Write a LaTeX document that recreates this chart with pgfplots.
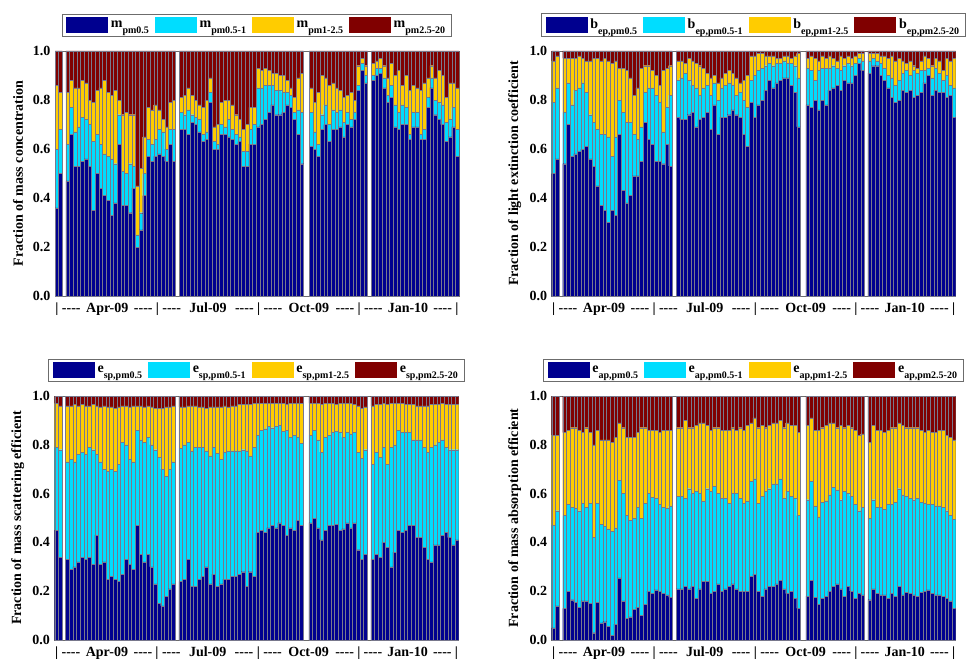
\documentclass[border=0pt]{standalone}
\usepackage{fontspec}
\setmainfont{Liberation Serif}
\usepackage{pgfplots}
\usepackage{pgfplotstable}
\pgfplotsset{compat=1.18}
\definecolor{cNavy}{RGB}{0,0,143}
\definecolor{cCyan}{RGB}{0,221,255}
\definecolor{cGold}{RGB}{255,204,0}
\definecolor{cMaroon}{RGB}{128,0,0}
\definecolor{barEdge}{RGB}{120,120,140}
\newcommand\fs{\fontsize{10.5}{12}\selectfont\bfseries}
\newcommand\lab[2]{#1\raisebox{-4.5pt}{\fontsize{7.5}{8}\selectfont #2}}
\newcommand\dsh{-\kern0pt-\kern0pt-\kern0pt-}
\newcommand\qlab[2]{\makebox[#1]{\dsh\hfill#2\hfill\dsh}}

% mass concentration: x, top of pm0.5, top of pm0.5-1, top of pm1-2.5 (cumulative)
\pgfplotstableread{
x b c y
0 0.36 0.60 0.86
1 0.50 0.68 0.83
3 0.47 0.62 0.83
4 0.66 0.77 0.88
5 0.53 0.67 0.85
6 0.53 0.69 0.85
7 0.55 0.73 0.88
8 0.56 0.72 0.87
9 0.53 0.70 0.80
10 0.35 0.63 0.79
11 0.50 0.66 0.84
12 0.44 0.62 0.85
13 0.41 0.58 0.88
14 0.39 0.57 0.83
15 0.33 0.56 0.82
16 0.38 0.54 0.84
17 0.62 0.74 0.80
18 0.37 0.51 0.74
19 0.37 0.50 0.75
20 0.34 0.54 0.74
21 0.44 0.53 0.74
22 0.20 0.25 0.45
23 0.27 0.34 0.52
24 0.41 0.50 0.65
25 0.57 0.64 0.77
26 0.55 0.62 0.76
27 0.57 0.64 0.78
28 0.58 0.68 0.76
29 0.57 0.67 0.72
30 0.55 0.60 0.69
31 0.62 0.68 0.79
32 0.55 0.68 0.80
34 0.68 0.75 0.81
35 0.68 0.74 0.82
36 0.66 0.76 0.85
37 0.71 0.74 0.82
38 0.70 0.73 0.80
39 0.67 0.72 0.78
40 0.63 0.66 0.77
41 0.64 0.67 0.80
42 0.79 0.83 0.89
43 0.60 0.63 0.69
44 0.60 0.62 0.70
45 0.66 0.70 0.79
46 0.66 0.69 0.80
47 0.65 0.72 0.80
48 0.64 0.68 0.78
49 0.62 0.66 0.74
50 0.63 0.65 0.72
51 0.53 0.59 0.68
52 0.53 0.59 0.70
53 0.62 0.68 0.77
54 0.62 0.70 0.77
55 0.69 0.85 0.93
56 0.70 0.85 0.92
57 0.72 0.86 0.93
58 0.75 0.86 0.92
59 0.78 0.86 0.91
60 0.74 0.84 0.91
61 0.74 0.84 0.90
62 0.75 0.83 0.90
63 0.78 0.83 0.88
64 0.77 0.82 0.85
65 0.72 0.75 0.81
66 0.66 0.76 0.89
67 0.54 0.75 0.91
70 0.61 0.75 0.85
71 0.60 0.67 0.79
72 0.57 0.62 0.83
73 0.68 0.74 0.90
74 0.70 0.78 0.89
75 0.63 0.70 0.86
76 0.68 0.76 0.87
77 0.68 0.75 0.85
78 0.69 0.76 0.84
79 0.65 0.71 0.81
80 0.70 0.75 0.82
81 0.69 0.72 0.83
82 0.72 0.75 0.80
83 0.84 0.86 0.94
84 0.92 0.95 0.97
85 0.87 0.90 0.94
87 0.88 0.90 0.95
88 0.90 0.93 0.96
89 0.91 0.93 0.97
90 0.85 0.89 0.94
91 0.79 0.82 0.89
92 0.81 0.86 0.95
93 0.69 0.78 0.90
94 0.68 0.75 0.92
95 0.70 0.78 0.86
96 0.70 0.77 0.90
97 0.64 0.66 0.84
98 0.69 0.75 0.86
99 0.69 0.75 0.85
100 0.64 0.66 0.84
101 0.64 0.68 0.87
102 0.77 0.81 0.89
103 0.85 0.89 0.94
104 0.74 0.80 0.89
105 0.72 0.79 0.92
106 0.70 0.78 0.90
107 0.63 0.71 0.81
108 0.65 0.72 0.87
109 0.69 0.77 0.87
110 0.57 0.68 0.85
}\tabM

% light extinction coefficient
\pgfplotstableread{
x b c y
0 0.50 0.79 0.96
1 0.56 0.85 0.98
3 0.54 0.75 0.97
4 0.70 0.87 0.97
5 0.57 0.78 0.97
6 0.58 0.84 0.97
7 0.59 0.85 0.98
8 0.60 0.87 0.97
9 0.61 0.83 0.96
10 0.56 0.74 0.96
11 0.53 0.71 0.97
12 0.45 0.68 0.97
13 0.37 0.66 0.96
14 0.35 0.66 0.97
15 0.30 0.65 0.96
16 0.35 0.57 0.95
17 0.33 0.65 0.96
18 0.66 0.80 0.93
19 0.43 0.75 0.93
20 0.38 0.71 0.92
21 0.41 0.71 0.89
22 0.49 0.66 0.82
23 0.49 0.64 0.85
24 0.55 0.69 0.93
25 0.71 0.83 0.94
26 0.64 0.85 0.94
27 0.62 0.85 0.92
28 0.55 0.82 0.90
29 0.55 0.79 0.86
30 0.54 0.67 0.92
31 0.62 0.77 0.93
32 0.53 0.82 0.94
34 0.73 0.88 0.96
35 0.72 0.89 0.96
36 0.72 0.91 0.95
37 0.74 0.88 0.97
38 0.75 0.86 0.96
39 0.69 0.85 0.95
40 0.72 0.82 0.94
41 0.73 0.85 0.93
42 0.75 0.86 0.91
43 0.68 0.82 0.89
44 0.78 0.87 0.90
45 0.66 0.80 0.87
46 0.73 0.85 0.89
47 0.73 0.86 0.91
48 0.74 0.87 0.92
49 0.76 0.86 0.91
50 0.74 0.82 0.89
51 0.73 0.83 0.87
52 0.66 0.80 0.88
53 0.61 0.77 0.90
54 0.79 0.88 0.98
55 0.73 0.90 0.98
56 0.78 0.92 0.99
57 0.80 0.93 0.99
58 0.84 0.94 0.98
59 0.88 0.95 0.98
60 0.85 0.94 0.98
61 0.87 0.95 0.97
62 0.88 0.95 0.97
63 0.89 0.96 0.98
64 0.89 0.95 0.98
65 0.86 0.95 0.97
66 0.83 0.94 0.98
67 0.69 0.89 0.99
70 0.78 0.93 0.97
71 0.77 0.92 0.98
72 0.80 0.88 0.97
73 0.76 0.92 0.96
74 0.80 0.93 0.98
75 0.78 0.93 0.97
76 0.84 0.93 0.98
77 0.85 0.94 0.97
78 0.86 0.93 0.96
79 0.84 0.92 0.98
80 0.88 0.94 0.97
81 0.87 0.95 0.98
82 0.87 0.94 0.97
83 0.90 0.95 0.98
84 0.95 0.97 0.99
85 0.92 0.96 0.99
87 0.91 0.96 0.99
88 0.94 0.97 0.99
89 0.94 0.96 0.99
90 0.90 0.95 0.98
91 0.88 0.93 0.98
92 0.85 0.90 0.97
93 0.81 0.89 0.98
94 0.79 0.86 0.96
95 0.80 0.88 0.97
96 0.84 0.91 0.96
97 0.83 0.92 0.95
98 0.84 0.90 0.96
99 0.81 0.92 0.94
100 0.82 0.91 0.93
101 0.83 0.92 0.96
102 0.87 0.92 0.98
103 0.90 0.93 0.97
104 0.82 0.89 0.94
105 0.84 0.93 0.97
106 0.83 0.91 0.96
107 0.83 0.88 0.92
108 0.81 0.90 0.97
109 0.82 0.86 0.96
110 0.73 0.85 0.97
}\tabB

% mass scattering efficient
\pgfplotstableread{
x b c y
0 0.45 0.79 0.97
1 0.34 0.78 0.96
3 0.33 0.73 0.96
4 0.29 0.74 0.96
5 0.30 0.73 0.965
6 0.32 0.76 0.96
7 0.34 0.77 0.965
8 0.33 0.76 0.96
9 0.34 0.79 0.96
10 0.31 0.78 0.965
11 0.43 0.76 0.96
12 0.31 0.73 0.955
13 0.32 0.70 0.96
14 0.25 0.69 0.955
15 0.26 0.70 0.955
16 0.25 0.69 0.95
17 0.24 0.72 0.955
18 0.27 0.81 0.96
19 0.33 0.80 0.96
20 0.31 0.74 0.955
21 0.29 0.73 0.96
22 0.47 0.86 0.96
23 0.35 0.82 0.96
24 0.32 0.81 0.955
25 0.35 0.83 0.96
26 0.30 0.80 0.955
27 0.23 0.78 0.95
28 0.15 0.75 0.95
29 0.14 0.70 0.95
30 0.18 0.67 0.955
31 0.21 0.70 0.955
32 0.23 0.73 0.96
34 0.24 0.785 0.955
35 0.25 0.80 0.955
36 0.33 0.81 0.96
37 0.22 0.775 0.96
38 0.22 0.79 0.96
39 0.25 0.79 0.955
40 0.26 0.79 0.955
41 0.30 0.775 0.95
42 0.23 0.755 0.955
43 0.27 0.79 0.955
44 0.22 0.765 0.955
45 0.23 0.74 0.955
46 0.25 0.77 0.96
47 0.25 0.775 0.955
48 0.26 0.775 0.96
49 0.26 0.775 0.96
50 0.27 0.775 0.965
51 0.28 0.78 0.965
52 0.22 0.775 0.965
53 0.28 0.755 0.965
54 0.26 0.79 0.97
55 0.44 0.84 0.97
56 0.45 0.86 0.97
57 0.44 0.865 0.97
58 0.46 0.875 0.97
59 0.47 0.87 0.97
60 0.46 0.875 0.97
61 0.48 0.88 0.97
62 0.47 0.855 0.97
63 0.43 0.86 0.965
64 0.46 0.83 0.97
65 0.45 0.84 0.97
66 0.49 0.83 0.97
67 0.47 0.805 0.97
70 0.48 0.84 0.97
71 0.50 0.86 0.97
72 0.46 0.82 0.97
73 0.41 0.77 0.965
74 0.45 0.83 0.97
75 0.47 0.84 0.97
76 0.47 0.85 0.97
77 0.475 0.855 0.965
78 0.45 0.85 0.97
79 0.455 0.83 0.97
80 0.48 0.85 0.97
81 0.46 0.845 0.97
82 0.48 0.85 0.965
83 0.37 0.77 0.96
84 0.33 0.745 0.95
85 0.35 0.78 0.955
87 0.33 0.72 0.96
88 0.35 0.77 0.965
89 0.34 0.75 0.965
90 0.40 0.79 0.97
91 0.38 0.72 0.965
92 0.30 0.79 0.97
93 0.36 0.80 0.97
94 0.45 0.86 0.97
95 0.44 0.85 0.97
96 0.45 0.85 0.965
97 0.47 0.85 0.965
98 0.47 0.82 0.965
99 0.42 0.82 0.96
100 0.42 0.82 0.96
101 0.38 0.79 0.96
102 0.33 0.77 0.96
103 0.32 0.79 0.965
104 0.39 0.80 0.965
105 0.39 0.81 0.965
106 0.43 0.82 0.97
107 0.44 0.79 0.965
108 0.42 0.78 0.965
109 0.39 0.78 0.965
110 0.41 0.78 0.965
}\tabS

% mass absorption efficient
\pgfplotstableread{
x b c y
0 0.05 0.47 0.84
1 0.14 0.53 0.84
3 0.13 0.51 0.85
4 0.20 0.555 0.86
5 0.165 0.545 0.87
6 0.155 0.54 0.87
7 0.135 0.53 0.86
8 0.16 0.56 0.85
9 0.16 0.545 0.87
10 0.15 0.56 0.85
11 0.03 0.42 0.80
12 0.155 0.56 0.86
13 0.07 0.475 0.82
14 0.075 0.465 0.82
15 0.055 0.455 0.82
16 0.02 0.445 0.81
17 0.065 0.46 0.83
18 0.255 0.655 0.89
19 0.16 0.60 0.87
20 0.09 0.51 0.83
21 0.095 0.49 0.83
22 0.125 0.50 0.83
23 0.135 0.545 0.85
24 0.10 0.50 0.87
25 0.145 0.56 0.87
26 0.20 0.60 0.86
27 0.19 0.585 0.86
28 0.205 0.58 0.86
29 0.20 0.555 0.85
30 0.19 0.545 0.86
31 0.185 0.54 0.86
32 0.175 0.55 0.86
34 0.21 0.59 0.87
35 0.21 0.59 0.87
36 0.22 0.58 0.90
37 0.21 0.62 0.87
38 0.22 0.60 0.87
39 0.17 0.61 0.88
40 0.21 0.60 0.89
41 0.24 0.57 0.89
42 0.24 0.62 0.88
43 0.19 0.61 0.86
44 0.20 0.63 0.87
45 0.23 0.60 0.87
46 0.20 0.58 0.86
47 0.21 0.58 0.86
48 0.22 0.56 0.86
49 0.23 0.60 0.87
50 0.21 0.60 0.86
51 0.20 0.58 0.87
52 0.20 0.56 0.86
53 0.20 0.57 0.88
54 0.26 0.65 0.89
55 0.27 0.66 0.91
56 0.20 0.56 0.87
57 0.18 0.59 0.88
58 0.21 0.61 0.87
59 0.22 0.62 0.88
60 0.22 0.64 0.89
61 0.23 0.64 0.89
62 0.245 0.66 0.90
63 0.21 0.58 0.87
64 0.19 0.61 0.89
65 0.20 0.59 0.88
66 0.17 0.58 0.88
67 0.13 0.51 0.85
70 0.18 0.575 0.88
71 0.245 0.65 0.91
72 0.175 0.55 0.86
73 0.145 0.505 0.86
74 0.17 0.565 0.87
75 0.18 0.57 0.88
76 0.20 0.595 0.89
77 0.22 0.625 0.89
78 0.23 0.615 0.87
79 0.21 0.575 0.88
80 0.18 0.61 0.87
81 0.22 0.60 0.88
82 0.20 0.59 0.87
83 0.17 0.555 0.86
84 0.19 0.53 0.84
85 0.185 0.545 0.845
87 0.165 0.50 0.81
88 0.21 0.575 0.88
89 0.19 0.545 0.86
90 0.185 0.545 0.86
91 0.185 0.535 0.85
92 0.17 0.555 0.86
93 0.19 0.555 0.87
94 0.18 0.565 0.87
95 0.22 0.62 0.89
96 0.185 0.595 0.88
97 0.195 0.59 0.87
98 0.19 0.58 0.87
99 0.185 0.575 0.87
100 0.18 0.58 0.87
101 0.195 0.565 0.86
102 0.20 0.56 0.85
103 0.205 0.555 0.86
104 0.19 0.555 0.85
105 0.185 0.55 0.85
106 0.185 0.55 0.86
107 0.18 0.545 0.86
108 0.17 0.53 0.84
109 0.16 0.51 0.83
110 0.13 0.495 0.82
}\tabA

\pgfplotsset{
  panel/.style={
    scale only axis, width=303pt, height=183.75pt,
    ybar stacked, bar width=1,
    xmin=-0.5, xmax=110, ymin=0, ymax=1,
    axis line style={draw=gray!85!black, line width=0.6pt},
    ytick={0,0.2,0.4,0.6,0.8,1},
    yticklabel style={font=\fs, /pgf/number format/.cd, fixed, fixed zerofill, precision=1, assume math mode=true},
    tick align=inside, ytick pos=both, major tick length=3pt,
    tick style={draw=gray!40!black, line width=0.5pt},
    xtick={13.8,41.35,68.95,96.05},
    xticklabels={\qlab{68pt}{Apr-09},\qlab{68.5pt}{Jul-09},\qlab{68pt}{Oct-09},\qlab{66pt}{Jan-10}},
    extra x ticks={0.05,27.5,55.2,82.7,109.4},
    extra x tick labels={|,|,|,|,|},
    extra x tick style={major tick length=0pt},
    xtick style={draw=none},
    xticklabel style={font=\fs, text height=7.5pt, text depth=2pt, yshift=-1pt, inner xsep=0pt},
    ylabel style={font=\fs, at={(axis description cs:-0.0916,0.5)}, anchor=center},
    legend columns=4,
    legend style={at={(0.5,1)}, anchor=south, yshift=11pt, draw=gray!85!black, line width=0.6pt,
      font=\fs, inner xsep=3pt, inner ysep=2pt,
      /tikz/every even column/.append style={column sep=2.5pt}},
  },
  seg/.style={fill=#1, draw=barEdge, line width=0.25pt,
    legend image code/.code={\path[##1,draw=none] (0pt,-6pt) rectangle (31.5pt,6pt);}},
  /pgfplots/table/gx/.style={x expr={\thisrow{x}<68 ? \thisrow{x} : \thisrow{x}-0.5}},
}

\begin{document}
\begin{tikzpicture}
\path[use as bounding box] (0pt,0pt) rectangle (727.5pt,496.5pt);

\begin{axis}[panel, at={(41.25pt,274.5pt)}, anchor=south west,
  ylabel={Fraction of mass concentration}]
\addplot[seg=cNavy] table[gx,y=b]{\tabM};
\addplot[seg=cCyan] table[gx,y expr=\thisrow{c}-\thisrow{b}]{\tabM};
\addplot[seg=cGold] table[gx,y expr=\thisrow{y}-\thisrow{c}]{\tabM};
\addplot[seg=cMaroon] table[gx,y expr=1-\thisrow{y}]{\tabM};
\legend{\lab{m}{pm0.5},\lab{m}{pm0.5-1},\lab{m}{pm1-2.5},\lab{m}{pm2.5-20}}
\end{axis}

\begin{axis}[panel, at={(413.8pt,274.5pt)}, anchor=south west,
  ylabel={Fraction of light extinction coefficient}]
\addplot[seg=cNavy] table[gx,y=b]{\tabB};
\addplot[seg=cCyan] table[gx,y expr=\thisrow{c}-\thisrow{b}]{\tabB};
\addplot[seg=cGold] table[gx,y expr=\thisrow{y}-\thisrow{c}]{\tabB};
\addplot[seg=cMaroon] table[gx,y expr=1-\thisrow{y}]{\tabB};
\legend{\lab{b}{ep,pm0.5},\lab{b}{ep,pm0.5-1},\lab{b}{ep,pm1-2.5},\lab{b}{ep,pm2.5-20}}
\end{axis}

\begin{axis}[panel, height=183pt, at={(41.0pt,16.5pt)}, anchor=south west,
  ylabel={Fraction of mass scattering efficient}]
\addplot[seg=cNavy] table[gx,y=b]{\tabS};
\addplot[seg=cCyan] table[gx,y expr=\thisrow{c}-\thisrow{b}]{\tabS};
\addplot[seg=cGold] table[gx,y expr=\thisrow{y}-\thisrow{c}]{\tabS};
\addplot[seg=cMaroon] table[gx,y expr=1-\thisrow{y}]{\tabS};
\legend{\lab{e}{sp,pm0.5},\lab{e}{sp,pm0.5-1},\lab{e}{sp,pm1-2.5},\lab{e}{sp,pm2.5-20}}
\end{axis}

\begin{axis}[panel, height=183pt, at={(413.8pt,16.5pt)}, anchor=south west,
  ylabel={Fraction of mass absorption efficient}]
\addplot[seg=cNavy] table[gx,y=b]{\tabA};
\addplot[seg=cCyan] table[gx,y expr=\thisrow{c}-\thisrow{b}]{\tabA};
\addplot[seg=cGold] table[gx,y expr=\thisrow{y}-\thisrow{c}]{\tabA};
\addplot[seg=cMaroon] table[gx,y expr=1-\thisrow{y}]{\tabA};
\legend{\lab{e}{ap,pm0.5},\lab{e}{ap,pm0.5-1},\lab{e}{ap,pm1-2.5},\lab{e}{ap,pm2.5-20}}
\end{axis}
\end{tikzpicture}
\end{document}
